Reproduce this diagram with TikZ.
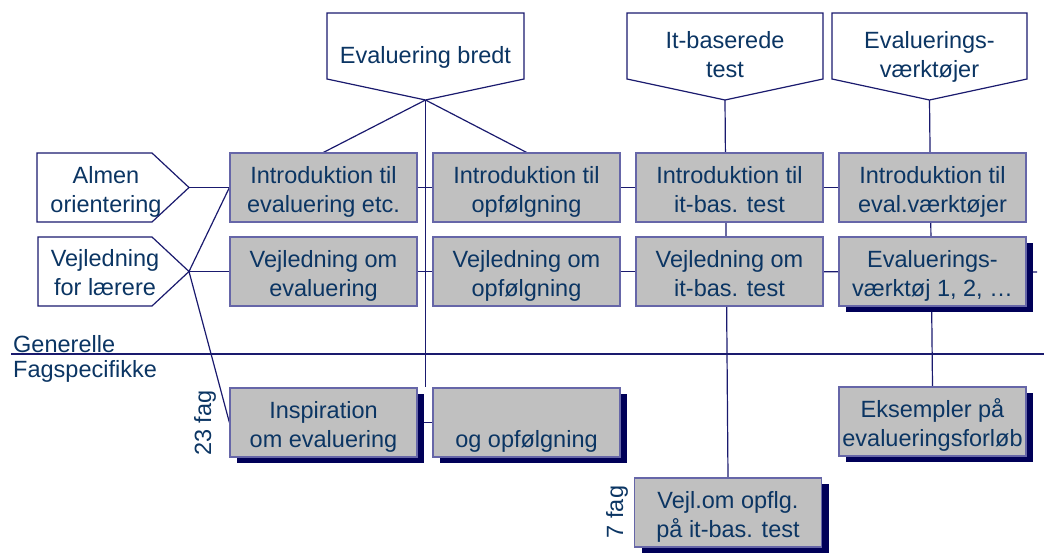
\documentclass[tikz,border=0pt]{standalone}
\usepackage{fontspec}
\setmainfont{Liberation Sans}
\usetikzlibrary{shadows,backgrounds}

\definecolor{navyline}{HTML}{1A1A6E}
\definecolor{boxedge}{HTML}{6666A8}
\definecolor{boxfill}{HTML}{C0C0C0}
\definecolor{txtblue}{HTML}{0B3563}
\definecolor{shadowblue}{HTML}{000058}

% two lines of box text, with fixed line heights
\newcommand\topstrut{\rule{0pt}{26pt}}
\newcommand\botstrut{\rule[-6pt]{0pt}{6pt}}
\newcommand\twolines[2]{\topstrut#1\\#2\botstrut}

\tikzset{
  box/.style={draw=boxedge, line width=1.2pt, fill=boxfill, text=txtblue,
    minimum width=187pt, minimum height=69pt, inner sep=1pt, align=center,
    font=\fontsize{23.5}{29}\selectfont},
  shadowbox/.style={box, drop shadow={shadow xshift=7pt, shadow yshift=-6pt,
    fill=shadowblue, opacity=1}},
  penta/.style={draw=navyline, line width=1.2pt, fill=white},
  ptext/.style={text=txtblue, align=center, inner sep=1pt,
    font=\fontsize{23.5}{29}\selectfont},
  link/.style={draw=navyline, line width=1.2pt},
}

\begin{document}
\begin{tikzpicture}[x=1pt,y=-1pt,node distance=203pt]
    \useasboundingbox (0,0) rectangle (1044,554);

    % headers
    \draw[penta] (327,13) -- (524,13) -- (524,79) -- (425.5,100) -- (327,79) -- cycle;
    \coordinate (evbtip) at (425.5,100);
    \node[ptext]  (evb) at (425.5,53)    {\topstrut Evaluering bredt\botstrut};
    \draw[penta] (627,13) -- (823,13) -- (823,79) -- (725,100) -- (627,79) -- cycle;
    \coordinate (itbtip) at (725,100);
    \node[ptext]  (itb) at (725,52.5)    {\twolines{It-baserede}{test}};
    \draw[penta] (832,13) -- (1027,13) -- (1027,79) -- (929.5,100) -- (832,79) -- cycle;
    \coordinate (evvtip) at (929.5,100);
    \node[ptext]  (evv) at (929.5,52.5)  {\twolines{Evaluerings-}{værktøjer}};

    \draw[penta] (37,153) -- (152,153) -- (189,187.5) -- (152,222) -- (37,222) -- cycle;
    \coordinate (almtip) at (189,187.5);
    \node[ptext]  (alm) at (106,187.5)   {\twolines{Almen}{orientering}};
    \draw[penta] (38,237) -- (152,237) -- (189,271.5) -- (152,306) -- (38,306) -- cycle;
    \coordinate (vlttip) at (189,271.5);
    \node[ptext]  (vlt) at (105,270.5)   {\twolines{Vejledning}{for lærere}};

    % boxes
    \node[box]        (i1) at (323.5,187.5)                  {\twolines{Introduktion til}{evaluering etc.}};
    \node[box]        (i2) [right of=i1]                     {\twolines{Introduktion til}{opfølgning}};
    \node[box]        (i3) [right of=i2]                     {\twolines{Introduktion til}{it-bas. test}};
    \node[box]        (i4) [right of=i3]                     {\twolines{Introduktion til}{eval.værktøjer}};
    \node[box]        (v1) [below of=i1,node distance=84pt]  {\twolines{Vejledning om}{evaluering}};
    \node[box]        (v2) [right of=v1]                     {\twolines{Vejledning om}{opfølgning}};
    \node[box]        (v3) [right of=v2]                     {\twolines{Vejledning om}{it-bas. test}};
    \node[shadowbox]  (v4) [right of=v3]                     {\twolines{Evaluerings-}{værktøj 1, 2, …}};
    \node[shadowbox]  (f1) [below of=v1,node distance=151pt] {\twolines{Inspiration}{om evaluering}};
    \node[shadowbox]  (f2) [right of=f1]                     {\twolines{}{og opfølgning}};
    \node[shadowbox]  (f4) [below of=v4,node distance=150pt] {\twolines{Eksempler på}{evalueringsforløb}};
    \node[shadowbox]  (f3) at (728,512.5)                    {\twolines{Vejl.om opflg.}{på it-bas. test}};

    \node[ptext,anchor=base west] (gen) at (12,352) {Generelle};
    \node[ptext,anchor=base west] (fsp) at (12,377) {Fagspecifikke};
    \node[ptext,rotate=90]        (n23) at (205,423) {23 fag};
    \node[ptext,rotate=90]        (n7)  at (617,512) {7 fag};

    \coordinate (sepl) at (11,354);
    \coordinate (sepr) at (1044,354);
    \coordinate (rowend) at (1037,272);

    \begin{scope}[on background layer]
    \path[link] (evbtip)  edge (i1.north)
                (evbtip)  edge (i2.north)
                (evbtip)  edge (evbtip |- f1.north)
                (itbtip)  edge (f3.north)
                (evvtip)  edge (f4.north)
                (almtip)  edge (i1.west)
                (vlttip)  edge (v1.west)
                (vlttip)  edge (i1.west)
                (vlttip)  edge (f1.west)
                (i1)      edge (i2)
                (i2)      edge (i3)
                (i3)      edge (i4)
                (v1)      edge (v2)
                (v2)      edge (v3)
                (v3)      edge (rowend)
                (f1)      edge (f2)
                (sepl)    edge (sepr)
                ;
    \end{scope}
\end{tikzpicture}
\end{document}
